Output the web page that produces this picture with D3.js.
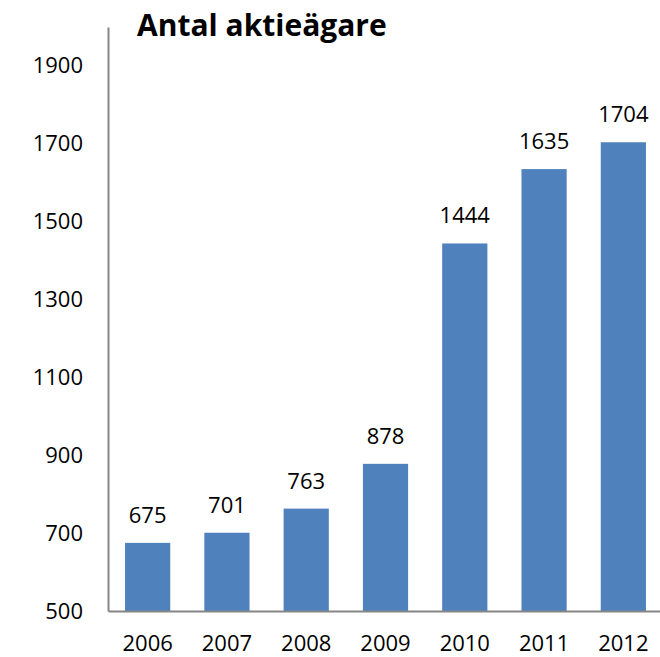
<!DOCTYPE html>
<html>
<head>
<meta charset="utf-8">
<script src="https://cdn.jsdelivr.net/npm/d3@7"></script>
<style>
  body { margin: 0; background: #fff; }
  svg text { font-family: "Open Sans", "Noto Sans", sans-serif; fill: #000; }
</style>
</head>
<body>
<div id="chart"></div>
<script>
const years = ['2006', '2007', '2008', '2009', '2010', '2011', '2012'];
const holders = [675, 701, 763, 878, 1444, 1635, 1704];
const yTicks = [500, 700, 900, 1100, 1300, 1500, 1700, 1900];
const title = 'Antal aktieägare';

const width = 660, height = 657;
const plotLeft = 108, plotRight = 663, plotTop = 27, plotBottom = 611;

const svg = d3.select('#chart')
  .append('svg')
  .attr('width', width)
  .attr('height', height);

const x = d3.scaleBand()
  .domain(years)
  .range([plotLeft, plotRight])
  .paddingInner(0.43)
  .paddingOuter(0.215);

const y = d3.scaleLinear()
  .domain([500, 2000])
  .range([plotBottom, plotTop]);

// bars
svg.append('g')
  .selectAll('rect')
  .data(years)
  .join('rect')
  .attr('x', d => x(d))
  .attr('y', (d, i) => y(holders[i]))
  .attr('width', x.bandwidth())
  .attr('height', (d, i) => y(500) - y(holders[i]))
  .attr('fill', '#4f81bd');

// value labels
svg.append('g')
  .selectAll('text')
  .data(years)
  .join('text')
  .attr('x', d => x(d) + x.bandwidth() / 2)
  .attr('y', (d, i) => y(holders[i]) - 20)
  .attr('text-anchor', 'middle')
  .style('font-size', '22px')
  .text((d, i) => holders[i]);

// y axis
const yAxis = svg.append('g')
  .attr('transform', `translate(${plotLeft},0)`)
  .call(d3.axisLeft(y).tickValues(yTicks).tickFormat(d3.format('d')).tickSize(0).tickPadding(25));
yAxis.select('.domain').attr('stroke', '#868686').attr('stroke-width', 2);
yAxis.selectAll('text').style('font-size', '22px');

// x axis
const xAxis = svg.append('g')
  .attr('transform', `translate(0,${plotBottom})`)
  .call(d3.axisBottom(x).tickSize(0).tickPadding(24));
xAxis.select('.domain').attr('stroke', '#868686').attr('stroke-width', 2);
xAxis.selectAll('text').style('font-size', '22px');

// title
svg.append('text')
  .attr('x', 137)
  .attr('y', 36)
  .style('font-size', '30px')
  .style('font-weight', 'bold')
  .text(title);
</script>
</body>
</html>
